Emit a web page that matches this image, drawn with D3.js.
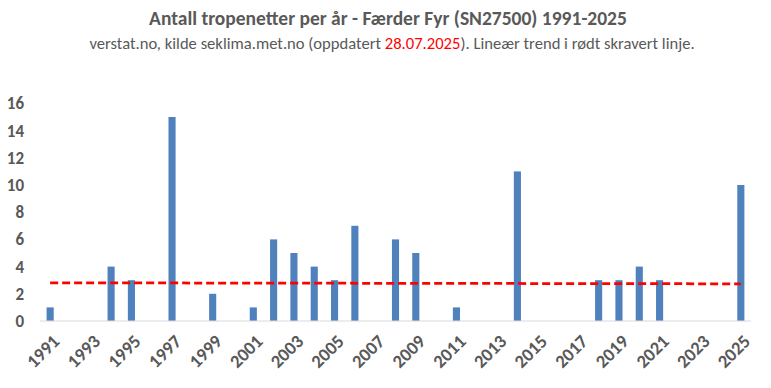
<!DOCTYPE html>
<html>
<head>
<meta charset="utf-8">
<script src="https://cdn.jsdelivr.net/npm/d3@7"></script>
<style>
  body { margin: 0; background: #fff; }
  svg text { font-family: "Carlito", "Liberation Sans Narrow", "Liberation Sans", sans-serif; }
</style>
</head>
<body>
<svg id="chart" width="771" height="388"></svg>
<script>
const years = d3.range(1991, 2026);
const nights = [1, 0, 0, 4, 3, 0, 15, 0, 2, 0, 1, 6, 5, 4, 3, 7, 0, 6, 5, 0, 1, 0, 0, 11, 0, 0, 0, 3, 3, 4, 3, 0, 0, 0, 10];
const yTicks = [0, 2, 4, 6, 8, 10, 12, 14, 16];
const xTickYears = years.filter(y => (y - 1991) % 2 === 0);

const svg = d3.select('#chart');
const grey = '#595959';

const x = d3.scaleBand().domain(years).range([40, 751]).paddingInner(0.65).paddingOuter(0.325);
const y = d3.scaleLinear().domain([0, 16]).range([321, 103.4]);

// title
svg.append('text')
  .attr('x', 388).attr('y', 25)
  .attr('text-anchor', 'middle')
  .attr('fill', grey)
  .style('font-size', '19.5px').style('font-weight', 'bold')
  .text('Antall tropenetter per år - Færder Fyr (SN27500) 1991-2025');

const sub = svg.append('text')
  .attr('x', 392).attr('y', 49)
  .attr('text-anchor', 'middle')
  .attr('fill', grey)
  .style('font-size', '16.6px');
sub.append('tspan').text('verstat.no, kilde seklima.met.no (oppdatert ');
sub.append('tspan').attr('fill', '#ff0000').text('28.07.2025');
sub.append('tspan').text('). Lineær trend i rødt skravert linje.');

// y labels
svg.append('g').selectAll('text')
  .data(yTicks).enter().append('text')
  .attr('x', 24).attr('y', d => y(d))
  .attr('dy', '0.35em')
  .attr('text-anchor', 'end')
  .attr('fill', grey)
  .style('font-size', '17px').style('font-weight', 'bold')
  .text(d => d);

// bars
svg.append('g').selectAll('rect')
  .data(years.map((yr, i) => ({ yr, v: nights[i] })).filter(d => d.v > 0))
  .enter().append('rect')
  .attr('x', d => x(d.yr))
  .attr('width', x.bandwidth())
  .attr('y', d => y(d.v))
  .attr('height', d => y(0) - y(d.v))
  .attr('fill', '#4f81bd');

// axis line
svg.append('line')
  .attr('x1', 40).attr('x2', 751)
  .attr('y1', y(0)).attr('y2', y(0))
  .attr('stroke', '#d9d9d9').attr('stroke-width', 1);

// x labels
svg.append('g').selectAll('text')
  .data(xTickYears).enter().append('text')
  .attr('transform', d => `translate(${x(d) + x.bandwidth() / 2 + 6},${y(0) + 17}) rotate(-45)`)
  .attr('text-anchor', 'end')
  .attr('dy', '0.35em')
  .attr('fill', grey)
  .style('font-size', '18.5px').style('font-weight', 'bold')
  .text(d => d);

// linear trend (least squares)
const n = years.length;
const mx = d3.mean(years), my = d3.mean(nights);
const slope = d3.sum(years, (yr, i) => (yr - mx) * (nights[i] - my)) / d3.sum(years, yr => (yr - mx) ** 2);
const trend = yr => my + slope * (yr - mx);
const cx = yr => x(yr) + x.bandwidth() / 2;

svg.append('path')
  .datum([years[0], years[n - 1]])
  .attr('d', d3.line().x(cx).y(yr => y(trend(yr))))
  .attr('fill', 'none')
  .attr('stroke', '#ff0000')
  .attr('stroke-width', 2.75)
  .attr('stroke-dasharray', '8,4');
</script>
</body>
</html>
